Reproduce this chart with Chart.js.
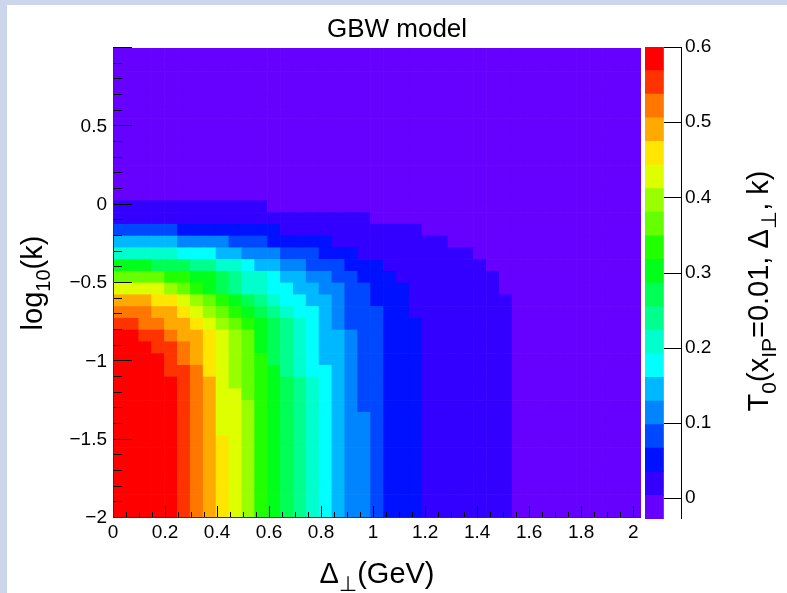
<!DOCTYPE html>
<html>
<head>
<meta charset="utf-8">
<script src="https://cdn.jsdelivr.net/npm/chart.js@4.4.0/dist/chart.umd.min.js"></script>
<style>
  html, body { margin: 0; padding: 0; }
  body { width: 787px; height: 593px; background: #cbd6ec; position: relative; overflow: hidden; }
  #frame { position: absolute; left: 7px; top: 5px; width: 780px; height: 588px; background: #fff; }
  #mapCanvas { position: absolute; left: 0; top: 0; }
  #paletteCanvas { position: absolute; left: 600px; top: 0; }
</style>
</head>
<body>
<div id="frame"></div>
<canvas id="mapCanvas" width="787" height="593"></canvas>
<canvas id="paletteCanvas" width="187" height="593"></canvas>
<script>
// histogram binning
const xMin = 0, xMax = 2.03, nX = 41;
const yMin = -2, yMax = 1, nY = 40;

// colour scale (20 contour levels)
const zMin = -0.0276, zMax = 0.6;
const paletteColors = [
  '#6600ff', '#3300ff', '#0011ff', '#0048ff', '#0085ff',
  '#00b8ff', '#00ffff', '#00ffcc', '#00ff8c', '#00ff55',
  '#00ff1a', '#22ff00', '#66ff00', '#99ff00', '#ddff00',
  '#ffe600', '#ffaa00', '#ff7700', '#ff3300', '#ff0000'
];

const xTickValues = [0, 0.2, 0.4, 0.6, 0.8, 1, 1.2, 1.4, 1.6, 1.8, 2];
const yTickValues = [-2, -1.5, -1, -0.5, 0, 0.5];
const zTickValues = [0, 0.1, 0.2, 0.3, 0.4, 0.5, 0.6];

// contour level (1..20) of every cell, top row first
const cellLevels = [
  [1,1,1,1,1,1,1,1,1,1, 1,1,1,1,1,1,1,1,1,1, 1,1,1,1,1,1,1,1,1,1, 1,1,1,1,1,1,1,1,1,1, 1],
  [1,1,1,1,1,1,1,1,1,1, 1,1,1,1,1,1,1,1,1,1, 1,1,1,1,1,1,1,1,1,1, 1,1,1,1,1,1,1,1,1,1, 1],
  [1,1,1,1,1,1,1,1,1,1, 1,1,1,1,1,1,1,1,1,1, 1,1,1,1,1,1,1,1,1,1, 1,1,1,1,1,1,1,1,1,1, 1],
  [1,1,1,1,1,1,1,1,1,1, 1,1,1,1,1,1,1,1,1,1, 1,1,1,1,1,1,1,1,1,1, 1,1,1,1,1,1,1,1,1,1, 1],
  [1,1,1,1,1,1,1,1,1,1, 1,1,1,1,1,1,1,1,1,1, 1,1,1,1,1,1,1,1,1,1, 1,1,1,1,1,1,1,1,1,1, 1],
  [1,1,1,1,1,1,1,1,1,1, 1,1,1,1,1,1,1,1,1,1, 1,1,1,1,1,1,1,1,1,1, 1,1,1,1,1,1,1,1,1,1, 1],
  [1,1,1,1,1,1,1,1,1,1, 1,1,1,1,1,1,1,1,1,1, 1,1,1,1,1,1,1,1,1,1, 1,1,1,1,1,1,1,1,1,1, 1],
  [1,1,1,1,1,1,1,1,1,1, 1,1,1,1,1,1,1,1,1,1, 1,1,1,1,1,1,1,1,1,1, 1,1,1,1,1,1,1,1,1,1, 1],
  [1,1,1,1,1,1,1,1,1,1, 1,1,1,1,1,1,1,1,1,1, 1,1,1,1,1,1,1,1,1,1, 1,1,1,1,1,1,1,1,1,1, 1],
  [1,1,1,1,1,1,1,1,1,1, 1,1,1,1,1,1,1,1,1,1, 1,1,1,1,1,1,1,1,1,1, 1,1,1,1,1,1,1,1,1,1, 1],
  [1,1,1,1,1,1,1,1,1,1, 1,1,1,1,1,1,1,1,1,1, 1,1,1,1,1,1,1,1,1,1, 1,1,1,1,1,1,1,1,1,1, 1],
  [1,1,1,1,1,1,1,1,1,1, 1,1,1,1,1,1,1,1,1,1, 1,1,1,1,1,1,1,1,1,1, 1,1,1,1,1,1,1,1,1,1, 1],
  [1,1,1,1,1,1,1,1,1,1, 1,1,1,1,1,1,1,1,1,1, 1,1,1,1,1,1,1,1,1,1, 1,1,1,1,1,1,1,1,1,1, 1],
  [2,2,2,2,2,2,2,2,2,2, 2,2,1,1,1,1,1,1,1,1, 1,1,1,1,1,1,1,1,1,1, 1,1,1,1,1,1,1,1,1,1, 1],
  [2,2,2,2,2,2,2,2,2,2, 2,2,2,2,2,2,2,2,2,2, 1,1,1,1,1,1,1,1,1,1, 1,1,1,1,1,1,1,1,1,1, 1],
  [4,4,4,4,4,3,3,3,3,3, 3,3,3,2,2,2,2,2,2,2, 2,2,2,2,1,1,1,1,1,1, 1,1,1,1,1,1,1,1,1,1, 1],
  [6,6,6,6,6,5,5,5,5,4, 4,4,3,3,3,3,3,2,2,2, 2,2,2,2,2,2,1,1,1,1, 1,1,1,1,1,1,1,1,1,1, 1],
  [8,8,8,8,8,7,7,7,6,6, 5,5,5,4,4,4,3,3,3,2, 2,2,2,2,2,2,2,2,1,1, 1,1,1,1,1,1,1,1,1,1, 1],
  [11,11,11,10,10,10,9,9,8,8, 7,6,6,5,5,4,4,4,3,3, 3,2,2,2,2,2,2,2,2,1, 1,1,1,1,1,1,1,1,1,1, 1],
  [13,13,13,13,12,12,11,11,10,9, 8,8,7,6,6,5,5,4,4,3, 3,3,2,2,2,2,2,2,2,2, 1,1,1,1,1,1,1,1,1,1, 1],
  [15,15,15,15,14,13,12,11,10,9, 8,8,7,7,6,6,5,5,4,4, 3,3,3,2,2,2,2,2,2,2, 1,1,1,1,1,1,1,1,1,1, 1],
  [17,17,17,16,16,15,14,13,12,11, 10,9,8,7,7,6,6,5,4,4, 3,3,3,2,2,2,2,2,2,2, 2,1,1,1,1,1,1,1,1,1, 1],
  [18,18,18,17,17,16,15,14,13,12, 11,10,9,8,7,7,6,5,4,4, 4,3,3,2,2,2,2,2,2,2, 2,1,1,1,1,1,1,1,1,1, 1],
  [19,19,18,18,17,17,16,15,14,13, 12,11,10,9,8,7,6,5,4,4, 4,3,3,3,2,2,2,2,2,2, 2,1,1,1,1,1,1,1,1,1, 1],
  [20,20,19,19,18,17,17,16,15,14, 13,11,10,9,8,7,6,6,5,4, 4,3,3,3,2,2,2,2,2,2, 2,1,1,1,1,1,1,1,1,1, 1],
  [20,20,20,19,19,18,17,16,15,14, 13,11,10,9,8,7,6,6,5,4, 4,3,3,3,2,2,2,2,2,2, 2,1,1,1,1,1,1,1,1,1, 1],
  [20,20,20,20,19,18,17,16,15,14, 13,12,10,9,8,7,6,6,5,4, 4,3,3,3,2,2,2,2,2,2, 2,1,1,1,1,1,1,1,1,1, 1],
  [20,20,20,20,19,19,18,16,15,14, 13,12,11,9,8,7,7,6,5,4, 4,3,3,3,2,2,2,2,2,2, 2,1,1,1,1,1,1,1,1,1, 1],
  [20,20,20,20,20,19,18,17,15,14, 13,12,11,10,9,8,7,6,5,4, 4,3,3,3,2,2,2,2,2,2, 2,1,1,1,1,1,1,1,1,1, 1],
  [20,20,20,20,20,19,18,17,15,15, 13,12,11,10,9,8,7,6,5,4, 4,3,3,3,2,2,2,2,2,2, 2,1,1,1,1,1,1,1,1,1, 1],
  [20,20,20,20,20,19,18,17,15,15, 14,12,11,10,9,8,7,6,5,4, 4,3,3,3,2,2,2,2,2,2, 2,1,1,1,1,1,1,1,1,1, 1],
  [20,20,20,20,20,19,18,17,15,15, 14,12,11,10,9,8,7,6,5,5, 4,3,3,3,2,2,2,2,2,2, 2,1,1,1,1,1,1,1,1,1, 1],
  [20,20,20,20,20,19,18,17,15,15, 14,12,11,10,9,8,7,6,5,5, 4,3,3,3,2,2,2,2,2,2, 2,1,1,1,1,1,1,1,1,1, 1],
  [20,20,20,20,20,19,18,17,16,15, 14,12,11,10,9,8,7,6,5,5, 4,3,3,3,2,2,2,2,2,2, 2,1,1,1,1,1,1,1,1,1, 1],
  [20,20,20,20,20,19,18,17,16,15, 14,12,11,10,9,8,7,6,5,5, 4,3,3,3,2,2,2,2,2,2, 2,1,1,1,1,1,1,1,1,1, 1],
  [20,20,20,20,20,19,18,17,16,15, 14,12,11,10,9,8,7,6,5,5, 4,3,3,3,2,2,2,2,2,2, 2,1,1,1,1,1,1,1,1,1, 1],
  [20,20,20,20,20,19,18,17,16,15, 14,12,11,10,9,8,7,6,5,5, 4,3,3,3,2,2,2,2,2,2, 2,1,1,1,1,1,1,1,1,1, 1],
  [20,20,20,20,20,19,18,17,16,15, 14,12,11,10,9,8,7,6,5,5, 4,3,3,3,2,2,2,2,2,2, 2,1,1,1,1,1,1,1,1,1, 1],
  [20,20,20,20,20,19,18,17,16,15, 14,12,11,10,9,8,7,6,5,5, 4,3,3,3,2,2,2,2,2,2, 2,1,1,1,1,1,1,1,1,1, 1],
  [20,20,20,20,20,19,18,17,16,15, 14,12,11,10,9,8,7,6,5,5, 4,3,3,3,2,2,2,2,2,2, 2,1,1,1,1,1,1,1,1,1, 1]
];

const FONT = '"Liberation Sans", Arial, "DejaVu Sans", sans-serif';
const dx = (xMax - xMin) / nX;
const dy = (yMax - yMin) / nY;
const dz = (zMax - zMin) / paletteColors.length;

// one floating bar per cell
const cells = [];
const cellColors = [];
cellLevels.forEach((row, rr) => {
  const r = nY - 1 - rr;
  row.forEach((lvl, c) => {
    cells.push({ x: xMin + (c + 0.5) * dx, y: [yMin + r * dy, yMin + (r + 1) * dy] });
    cellColors.push(paletteColors[lvl - 1]);
  });
});

function fmt(v) {
  const s = String(Math.round(v * 10) / 10);
  return v < 0 ? '\u2212' + s.slice(1) : s;
}

// text with subscripts, centred on (cx, cy); baseline at cy (or cx when rotated)
function drawRich(ctx, parts, cx, cy, rotate) {
  ctx.save();
  ctx.translate(cx, cy);
  if (rotate) ctx.rotate(-Math.PI / 2);
  ctx.fillStyle = '#000';
  ctx.textBaseline = 'alphabetic';
  ctx.textAlign = 'left';
  let total = 0;
  parts.forEach(p => {
    ctx.font = p.size + 'px ' + FONT;
    p.w = ctx.measureText(p.text).width;
    total += p.w;
  });
  let x = -total / 2;
  parts.forEach(p => {
    ctx.font = p.size + 'px ' + FONT;
    ctx.fillText(p.text, x, p.dy || 0);
    x += p.w;
  });
  ctx.restore();
}

const mapDecor = {
  id: 'mapDecor',
  beforeDraw(chart) {
    const ctx = chart.ctx;
    drawRich(ctx, [{ text: 'GBW model', size: 26 }], 397, 37, false);
    drawRich(ctx, [
      { text: 'log', size: 29 }, { text: '10', size: 20, dy: 8 }, { text: '(k)', size: 29 }
    ], 42, 283, true);
    drawRich(ctx, [
      { text: '\u0394', size: 29 }, { text: '\u22A5', size: 21, dy: 8 }, { text: '(GeV)', size: 29 }
    ], 377, 583, false);
  },
  afterDatasetsDraw(chart) {
    const { ctx, chartArea: a, scales: { x, y } } = chart;
    ctx.save();
    ctx.strokeStyle = '#000';
    ctx.lineWidth = 1;
    ctx.beginPath();
    for (let i = 0; i <= 40; i++) {
      const px = Math.round(x.getPixelForValue(i * 0.05)) + 0.5;
      ctx.moveTo(px, a.bottom);
      ctx.lineTo(px, a.bottom - (i % 4 === 0 ? 12 : 6));
    }
    for (let i = 0; i <= 30; i++) {
      const py = Math.round(y.getPixelForValue(yMin + i * 0.1)) - 0.5;
      ctx.moveTo(a.left, py);
      ctx.lineTo(a.left + (i % 5 === 0 ? 19 : 9), py);
    }
    ctx.stroke();
    ctx.strokeStyle = '#333';
    ctx.beginPath();
    ctx.moveTo(a.left + 0.5, a.top);
    ctx.lineTo(a.left + 0.5, a.bottom);
    ctx.moveTo(a.left, a.bottom - 0.5);
    ctx.lineTo(a.right, a.bottom - 0.5);
    ctx.stroke();
    ctx.restore();
  }
};

new Chart(document.getElementById('mapCanvas'), {
  type: 'bar',
  data: {
    datasets: [{
      data: cells,
      backgroundColor: cellColors,
      borderWidth: 0,
      barPercentage: 1,
      categoryPercentage: 1
    }]
  },
  options: {
    responsive: false,
    animation: false,
    events: [],
    layout: { padding: { left: 0, right: 146, top: 48, bottom: 0 } },
    plugins: { legend: { display: false }, tooltip: { enabled: false } },
    scales: {
      x: {
        type: 'linear',
        min: xMin,
        max: xMax,
        offset: false,
        grid: { display: false, drawTicks: false, offset: false },
        border: { display: false },
        afterBuildTicks: s => { s.ticks = xTickValues.map(v => ({ value: v })); },
        afterFit: s => { s.height = 75; },
        ticks: {
          padding: 3,
          maxRotation: 0,
          color: '#000',
          font: { family: FONT, size: 19 },
          callback: v => fmt(v)
        }
      },
      y: {
        type: 'linear',
        min: yMin,
        max: yMax,
        grid: { display: false, drawTicks: false },
        border: { display: false },
        afterBuildTicks: s => { s.ticks = yTickValues.map(v => ({ value: v })); },
        afterFit: s => { s.width = 113; },
        ticks: {
          padding: 6,
          color: '#000',
          font: { family: FONT, size: 19 },
          callback: v => fmt(v)
        }
      }
    }
  },
  plugins: [mapDecor]
});

// colour palette on the right
const paletteDecor = {
  id: 'paletteDecor',
  beforeDraw(chart) {
    drawRich(chart.ctx, [
      { text: 'T', size: 29 }, { text: '0', size: 21, dy: 8 }, { text: '(x', size: 29 },
      { text: 'IP', size: 21, dy: 8 }, { text: '=0.01, \u0394', size: 29 },
      { text: '\u22A5', size: 21, dy: 8 }, { text: ', k)', size: 29 }
    ], 168, 291, true);
  },
  afterDatasetsDraw(chart) {
    const { ctx, chartArea: a, scales: { y } } = chart;
    ctx.save();
    ctx.strokeStyle = '#000';
    ctx.lineWidth = 1;
    ctx.beginPath();
    zTickValues.forEach(v => {
      const py = Math.round(y.getPixelForValue(v)) + 0.5;
      ctx.moveTo(a.right, py);
      ctx.lineTo(a.right - 18, py);
    });
    ctx.moveTo(a.right - 0.5, a.top);
    ctx.lineTo(a.right - 0.5, a.bottom);
    ctx.stroke();
    ctx.restore();
  }
};

new Chart(document.getElementById('paletteCanvas'), {
  type: 'bar',
  data: {
    labels: [''],
    datasets: paletteColors.map((col, i) => ({
      data: [[zMin + i * dz, zMin + (i + 1) * dz]],
      backgroundColor: col,
      borderWidth: 0,
      grouped: false,
      barPercentage: 1,
      categoryPercentage: 1
    }))
  },
  options: {
    responsive: false,
    animation: false,
    events: [],
    layout: { padding: { left: 45, right: 0, top: 47, bottom: 74 } },
    plugins: { legend: { display: false }, tooltip: { enabled: false } },
    scales: {
      x: { display: false, offset: false },
      y: {
        position: 'right',
        min: zMin,
        max: zMax,
        grid: { display: false, drawTicks: false },
        border: { display: false },
        afterBuildTicks: s => { s.ticks = zTickValues.map(v => ({ value: v })); },
        afterFit: s => { s.width = 105; },
        ticks: {
          padding: 3,
          color: '#000',
          font: { family: FONT, size: 19 },
          callback: v => fmt(v)
        }
      }
    }
  },
  plugins: [paletteDecor]
});
</script>
</body>
</html>
